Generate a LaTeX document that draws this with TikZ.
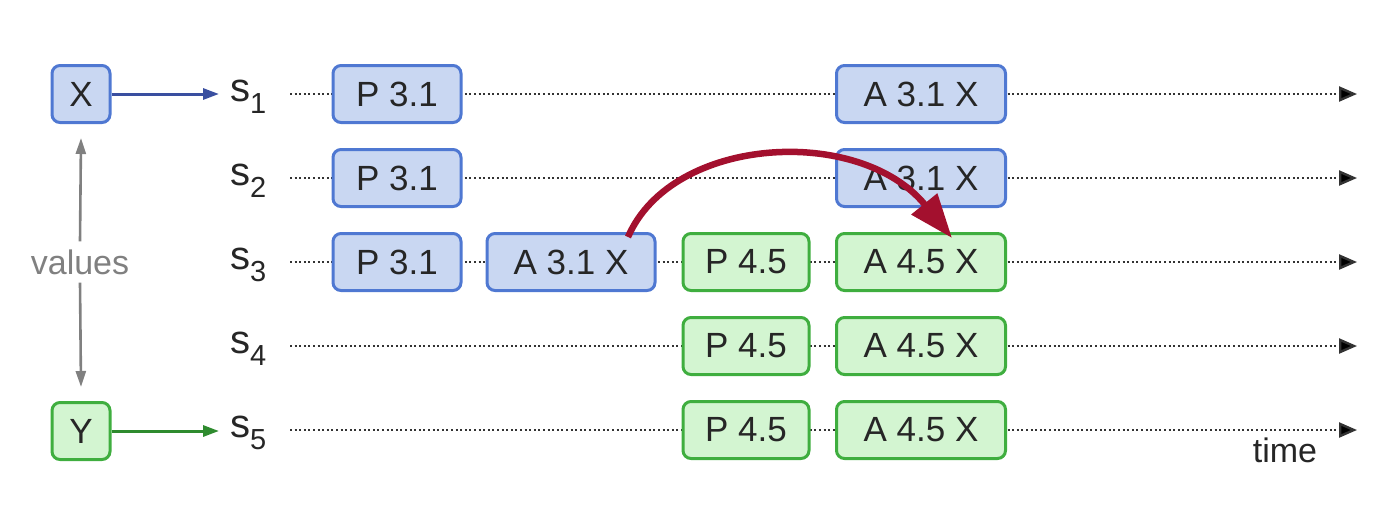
\documentclass[tikz,border=0pt]{standalone}
\usepackage{fontspec}
\setmainfont{Liberation Sans}
\usetikzlibrary{arrows.meta}
\definecolor{bfill}{HTML}{C9D7F2}
\definecolor{bdraw}{HTML}{4F78D2}
\definecolor{gfill}{HTML}{D3F5D1}
\definecolor{gdraw}{HTML}{3FAE3F}
\definecolor{redarr}{HTML}{A3102E}
\definecolor{xarr}{HTML}{3A4FA0}
\definecolor{yarr}{HTML}{2E8B2E}
\tikzset{
  box/.style={rounded corners=8pt, line width=3pt, minimum height=57pt, inner sep=0pt,
    font=\fontsize{35}{38}\selectfont, text=black!85},
  bbox/.style={box, draw=bdraw, fill=bfill},
  gbox/.style={box, draw=gdraw, fill=gfill},
  slabel/.style={font=\fontsize{40}{42}\selectfont, text=black!85, inner sep=0pt},
  timeline/.style={line width=2.4pt, dash pattern=on 2pt off 2.6pt, black!80,
    -{Triangle[length=18pt,width=15pt,fill=black]}},
}
\newcommand{\slab}[1]{s\raisebox{-12pt}{\fontsize{29}{30}\selectfont #1}}
\begin{document}
\begin{tikzpicture}[x=1pt,y=-1pt]
\useasboundingbox (0,0) rectangle (1400,515);
% s labels
\foreach \i/\y in {1/94,2/178,3/262,4/346,5/430}{
  \node[slabel, anchor=base west] (s\i) at (230,\y+7) {\slab{\i}};
  \coordinate (st\i) at (290,\y);
  \coordinate (en\i) at (1357,\y);
  \draw[timeline] (st\i) -- (en\i);
}
% boxes row 1
\node[bbox, minimum width=128pt] (p1) at (397,94) {P 3.1};
\node[bbox, minimum width=169pt] (a1) at (921,94) {A 3.1 X};
% row 2
\node[bbox, minimum width=128pt] (p2) at (397,178) {P 3.1};
\node[bbox, minimum width=169pt] (a2) at (921,178) {A 3.1 X};
% row 3
\node[bbox, minimum width=128pt] (p3) at (397,262) {P 3.1};
\node[bbox, minimum width=168pt] (a3) at (571,262) {A 3.1 X};
\node[gbox, minimum width=126pt] (q3) at (746,262) {P 4.5};
\node[gbox, minimum width=169pt] (b3) at (921,262) {A 4.5 X};
% row 4
\node[gbox, minimum width=126pt] (q4) at (746,346) {P 4.5};
\node[gbox, minimum width=169pt] (b4) at (921,346) {A 4.5 X};
% row 5
\node[gbox, minimum width=126pt] (q5) at (746,430) {P 4.5};
\node[gbox, minimum width=169pt] (b5) at (921,430) {A 4.5 X};
% X and Y
\node[bbox, minimum width=58pt] (X) at (81,94) {X};
\node[gbox, minimum width=58pt] (Y) at (81,431) {Y};
\coordinate (xe) at (219,94);
\coordinate (ye) at (219,431);
\draw[xarr, line width=3pt, -{Triangle[length=16pt,width=11pt]}] (X.east) -- (xe);
\draw[yarr, line width=3pt, -{Triangle[length=16pt,width=11pt]}] (Y.east) -- (ye);
% values
\node[font=\fontsize{34}{36}\selectfont, text=black!50, inner sep=2pt] (vals) at (80,262) {values};
\coordinate (vtop) at (81,138);
\coordinate (vbot) at (81,387);
\draw[black!50, line width=2.6pt, -{Triangle[length=16pt,width=10pt]}] (vals.north) ++(0,-6) -- (vtop);
\draw[black!50, line width=2.6pt, -{Triangle[length=16pt,width=10pt]}] (vals.south) ++(0,6) -- (vbot);
% red arrow
\coordinate (rs) at (628,237);
\coordinate (re) at (952,238);
\draw[redarr, line width=6.5pt, -{Triangle[length=44pt,width=32pt]}]
  (rs) .. controls (672,135) and (860,125) .. (re);
% time
\node[font=\fontsize{34}{36}\selectfont, text=black!85, anchor=base] (time) at (1285,462) {time};
\end{tikzpicture}
\end{document}
